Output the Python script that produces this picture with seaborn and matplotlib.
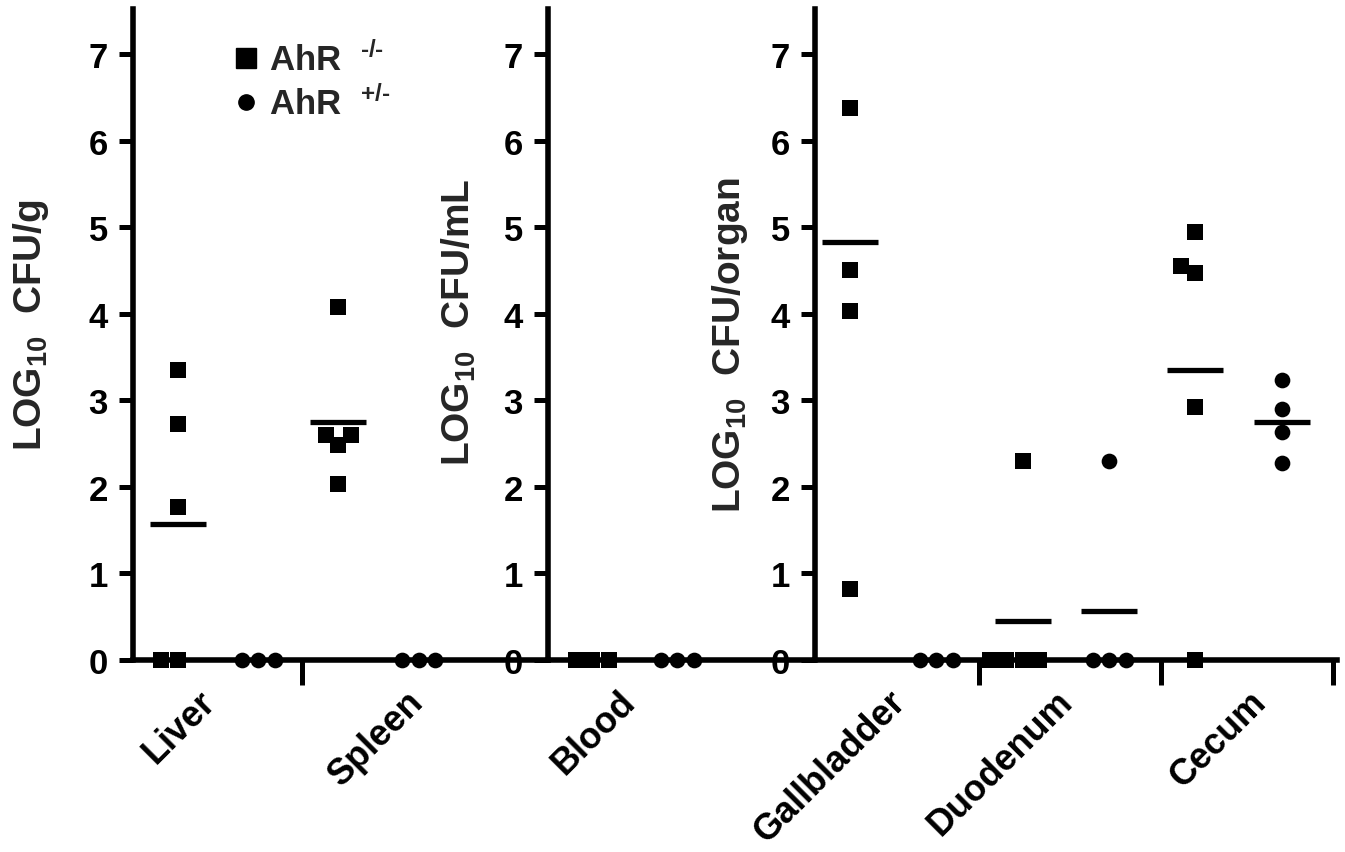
import matplotlib
matplotlib.use("Agg")
import matplotlib.pyplot as plt
import numpy as np
import pandas as pd
import seaborn as sns
from matplotlib.lines import Line2D

# ---------------- data ----------------
GENOTYPES = ["AhR -/-", "AhR +/-"]

# Panel 1 : LOG10 CFU/g
liver_ko = [3.35, 2.73, 1.77, 0.0, 0.0]
liver_het = [0.0, 0.0, 0.0]
spleen_ko = [4.08, 2.60, 2.60, 2.48, 2.03]
spleen_het = [0.0, 0.0, 0.0]
# Panel 2 : LOG10 CFU/mL
blood_ko = [0.0, 0.0, 0.0]
blood_het = [0.0, 0.0, 0.0]
# Panel 3 : LOG10 CFU/organ
gallbladder_ko = [6.38, 4.50, 4.03, 0.82]
gallbladder_het = [0.0, 0.0, 0.0]
duodenum_ko = [2.30, 0.0, 0.0, 0.0, 0.0]
duodenum_het = [2.30, 0.0, 0.0, 0.0]
cecum_ko = [4.94, 4.55, 4.47, 2.92, 0.0]
cecum_het = [3.24, 2.90, 2.63, 2.28]

# horizontal bars (group means) as drawn
mean_organs = ["Liver", "Spleen", "Gallbladder", "Duodenum", "Duodenum", "Cecum", "Cecum"]
mean_genotypes = ["AhR -/-", "AhR -/-", "AhR -/-", "AhR -/-", "AhR +/-", "AhR -/-", "AhR +/-"]
mean_values = [1.57, 2.75, 4.83, 0.45, 0.57, 3.35, 2.75]

panel_organs = [["Liver", "Spleen"], ["Blood"], ["Gallbladder", "Duodenum", "Cecum"]]
panel_ylabels = [r"LOG$_{10}$  CFU/g", r"LOG$_{10}$  CFU/mL", r"LOG$_{10}$  CFU/organ"]
y_ticks = [0, 1, 2, 3, 4, 5, 6, 7]
legend_labels = [r"AhR  $^{\text{-/-}}$", r"AhR  $^{\text{+/-}}$"]

series = {
    ("Liver", "AhR -/-"): liver_ko, ("Liver", "AhR +/-"): liver_het,
    ("Spleen", "AhR -/-"): spleen_ko, ("Spleen", "AhR +/-"): spleen_het,
    ("Blood", "AhR -/-"): blood_ko, ("Blood", "AhR +/-"): blood_het,
    ("Gallbladder", "AhR -/-"): gallbladder_ko, ("Gallbladder", "AhR +/-"): gallbladder_het,
    ("Duodenum", "AhR -/-"): duodenum_ko, ("Duodenum", "AhR +/-"): duodenum_het,
    ("Cecum", "AhR -/-"): cecum_ko, ("Cecum", "AhR +/-"): cecum_het,
}
rows = [(o, g, f"{o}|{g}", v) for (o, g), vals in series.items() for v in vals]
df = pd.DataFrame(rows, columns=["organ", "genotype", "group", "value"])
dm = pd.DataFrame({"organ": mean_organs, "genotype": mean_genotypes, "mean": mean_values})
dm["group"] = dm["organ"] + "|" + dm["genotype"]

# ---------------- style ----------------
sns.set_theme(style="ticks")
plt.rcParams["font.family"] = ["Liberation Sans", "DejaVu Sans"]
plt.rcParams["font.weight"] = "bold"
plt.rcParams["axes.labelweight"] = "bold"
plt.rcParams["mathtext.fontset"] = "custom"
plt.rcParams["mathtext.rm"] = "Liberation Sans:bold"
plt.rcParams["mathtext.bf"] = "Liberation Sans:bold"
plt.rcParams["mathtext.default"] = "bf"
plt.rcParams["axes.edgecolor"] = "black"
plt.rcParams["xtick.color"] = "black"
plt.rcParams["ytick.color"] = "black"

W, H = 1345, 853
fig = plt.figure(figsize=(W / 100, H / 100), dpi=100)
fig.patch.set_facecolor("white")


def px_axes(x0, x1, ytop=10, ybot=661):
    return fig.add_axes([x0 / W, (H - ybot) / H, (x1 - x0) / W, (ybot - ytop) / H])


axes = [px_axes(133, 548), px_axes(548, 814), px_axes(815, 1337)]
xlims = [(-0.56, 4.61), (-0.52, 2.61), (-0.405, 5.64)]
label_anchor = [[0.40, 3.0], [0.45], [0.58, 2.52, 4.76]]
boundaries = [[1.54], [], [1.49, 3.6, 5.59]]
ylabel_x = [-0.198, -0.263, -0.125]
ylabel_y = [0.516, 0.52, 0.485]
markers = {"AhR -/-": "s", "AhR +/-": "o"}

for i, (ax, organs) in enumerate(zip(axes, panel_organs)):
    ax.patch.set_alpha(0)
    order = [f"{o}|{g}" for o in organs for g in GENOTYPES]
    sub = df[df["organ"].isin(organs)]
    for g in GENOTYPES:
        sns.swarmplot(data=sub[sub["genotype"] == g], x="group", y="value", order=order,
                      marker=markers[g], size=11.3, color="black", linewidth=0,
                      warn_thresh=1.0, ax=ax)
    msub = dm[dm["organ"].isin(organs)]
    if len(msub):
        sns.pointplot(data=msub, x="group", y="mean", order=order, color="black",
                      markers="_", linestyles="none", errorbar=None,
                      markersize=40, markeredgewidth=3.8, ax=ax)
    for c in ax.collections:
        c.set_clip_on(False)
    for ln in ax.lines:
        ln.set_clip_on(False)

    ax.set_xlim(*xlims[i])
    ax.set_ylim(0, 7.52)
    ax.set_yticks(y_ticks)
    ax.set_yticklabels([str(t) for t in y_ticks])
    ax.set_xticks(label_anchor[i])
    ax.set_xticklabels(organs, rotation=45, ha="right", va="center",
                       rotation_mode="anchor", fontsize=26, fontweight="bold")
    ax.set_xticks(boundaries[i], minor=True)
    ax.tick_params(axis="x", which="major", length=0, pad=26)
    ax.tick_params(axis="x", which="minor", length=18, width=3.6, direction="out")
    ax.tick_params(axis="y", which="major", length=10, width=3.6, labelsize=25, pad=8,
                   direction="out")
    ax.set_xlabel("")
    ax.set_ylabel(panel_ylabels[i], fontsize=28, fontweight="bold")
    ax.yaxis.set_label_coords(ylabel_x[i], ylabel_y[i])
    for s in ["top", "right"]:
        ax.spines[s].set_visible(False)
    for s in ["left", "bottom"]:
        ax.spines[s].set_linewidth(4)
        ax.spines[s].set_color("black")

handles = [Line2D([], [], marker="s", color="black", linestyle="none", markersize=14.5),
           Line2D([], [], marker="o", color="black", linestyle="none", markersize=11)]
axes[0].legend(handles, legend_labels, loc="upper left", bbox_to_anchor=(0.235, 0.95),
               frameon=False, fontsize=25, handlelength=0.9, handletextpad=0.2,
               labelspacing=0.25, borderpad=0, borderaxespad=0)

fig.savefig("out.png", dpi=100, facecolor="white")
